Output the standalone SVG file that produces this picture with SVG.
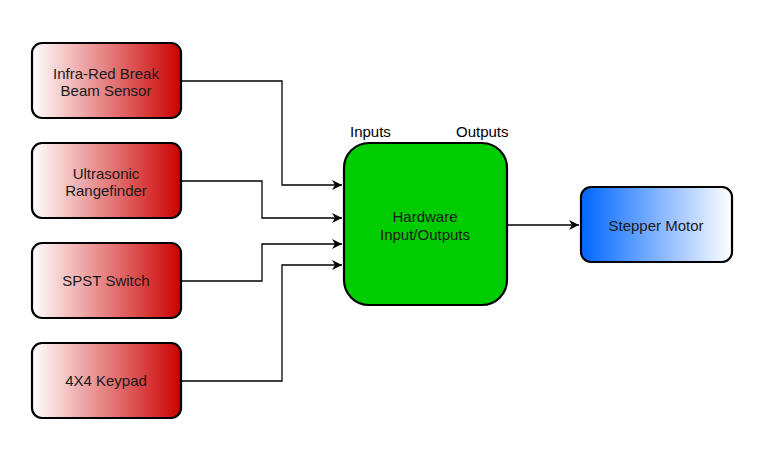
<svg xmlns="http://www.w3.org/2000/svg" width="757" height="464" viewBox="0 0 757 464">
<defs>
<linearGradient id="red" x1="0" y1="0" x2="1" y2="0"><stop offset="0" stop-color="#ffffff"/><stop offset="1" stop-color="#cc0000"/></linearGradient>
<linearGradient id="blue" x1="0" y1="0" x2="1" y2="0"><stop offset="0" stop-color="#0066ff"/><stop offset="1" stop-color="#ffffff"/></linearGradient>
<marker id="arr" viewBox="0 0 10 10" refX="10" refY="5" markerWidth="10" markerHeight="10" markerUnits="userSpaceOnUse" orient="auto"><path d="M0,0 L10,5 L0,10 L3,5 Z" fill="#000"/></marker>
<style>
.box{stroke:#000;stroke-width:2.2}
.t{font-family:"Liberation Sans",Arial,sans-serif;font-size:15px;fill:#1a1a1a;text-anchor:middle}
.l{font-family:"Liberation Sans",Arial,sans-serif;font-size:15px;fill:#000}
.c{fill:none;stroke:#000;stroke-width:1.3}
</style>
</defs>
<rect width="757" height="464" fill="#fff"/>
<g id="connectors">
<path class="c" d="M181,81 H282 V185 H342" marker-end="url(#arr)"/>
<path class="c" d="M181,181 H262 V218 H342" marker-end="url(#arr)"/>
<path class="c" d="M181,281 H262 V244 H342" marker-end="url(#arr)"/>
<path class="c" d="M181,381 H282 V265 H342" marker-end="url(#arr)"/>
<path class="c" d="M507,225 H579" marker-end="url(#arr)"/>
</g>
<g id="ir"><rect class="box" x="32" y="43" width="149" height="75" rx="10" fill="url(#red)"/><text class="t" x="106" y="79">Infra-Red Break</text><text class="t" x="106" y="96">Beam Sensor</text></g>
<g id="us"><rect class="box" x="32" y="143" width="149" height="75" rx="10" fill="url(#red)"/><text class="t" x="106" y="179">Ultrasonic</text><text class="t" x="106" y="196">Rangefinder</text></g>
<g id="spst"><rect class="box" x="32" y="243" width="149" height="75" rx="10" fill="url(#red)"/><text class="t" x="106" y="286">SPST Switch</text></g>
<g id="keypad"><rect class="box" x="32" y="343" width="149" height="75" rx="10" fill="url(#red)"/><text class="t" x="106" y="386">4X4 Keypad</text></g>
<g id="hw"><rect class="box" x="344" y="143" width="163" height="162" rx="25" fill="#00cc00"/><text class="t" x="425" y="222">Hardware</text><text class="t" x="425" y="240">Input/Outputs</text></g>
<g id="labels"><text class="l" x="350" y="137">Inputs</text><text class="l" x="456" y="137">Outputs</text></g>
<g id="motor"><rect class="box" x="581" y="187" width="151" height="75" rx="10" fill="url(#blue)"/><text class="t" x="656" y="231">Stepper Motor</text></g>
</svg>
